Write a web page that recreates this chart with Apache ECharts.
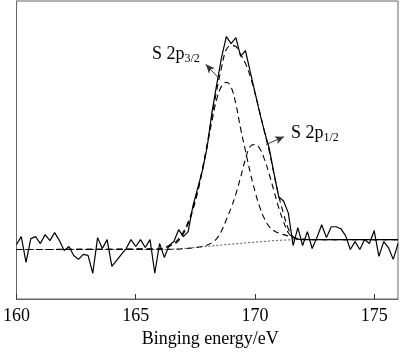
<!DOCTYPE html>
<html><head><meta charset="utf-8">
<script src="https://cdn.jsdelivr.net/npm/echarts@6/dist/echarts.min.js"></script>
<style>html,body{margin:0;padding:0;background:#fff}#c{width:400px;height:353px}</style>
</head><body><div id="c"></div>
<script>
// Binding energy grid (eV)
const energy = [160.0,160.2,160.4,160.6,160.8,161.0,161.2,161.4,161.6,161.8,162.0,162.2,162.4,162.6,162.8,163.0,163.2,163.4,163.6,163.8,164.0,164.2,164.4,164.6,164.8,165.0,165.2,165.4,165.6,165.8,166.0,166.2,166.4,166.6,166.8,167.0,167.2,167.4,167.6,167.8,168.0,168.2,168.4,168.6,168.8,169.0,169.2,169.4,169.6,169.8,170.0,170.2,170.4,170.6,170.8,171.0,171.2,171.4,171.6,171.8,172.0,172.2,172.4,172.6,172.8,173.0,173.2,173.4,173.6,173.8,174.0,174.2,174.4,174.6,174.8,175.0,175.2,175.4,175.6,175.8,176.0];
// Measured intensity (arb. units)
const measured = [55,63,37,61,63,56,65,59,67,59,49,53,44,40,45,44,26,62,51,60,33,39,45,51,60,53,60,52,60,26,56,42,54,58,70,63,68,94,112,130,154,189,217,244,265,258,264,245,251,230,209,188,169,152,127,103,99,87,54,72,54,68,51,62,75,62,73,73,71,64,50,58,50,60,56,69,43,58,52,40,56];
// Shirley background [eV, intensity]
const background = [[160,50],[166.4,50],[167.0,51],[168.0,53.2],[169.0,55.4],[170.0,57.4],[171.0,59.3],[171.8,60],[176,60]];
// S 2p3/2 component [eV, intensity]
const p32 = [[160,50],[166.0,50.5],[166.2,52],[166.4,54],[166.6,55],[166.8,59],[167.0,66],[167.2,76],[167.4,90],[167.6,108],[167.8,130],[168.0,155],[168.2,180],[168.4,202],[168.6,215],[168.8,219],[169.0,214],[169.2,197],[169.4,172],[169.6,150],[169.8,128],[170.0,109],[170.2,93],[170.4,81],[170.6,73],[170.8,69],[171.0,66.5],[171.2,65],[171.4,63.5],[171.6,62],[171.8,61],[172.0,60.5],[172.4,60],[176,60]];
// S 2p1/2 component [eV, intensity]
const p12 = [[160,50],[166.6,50.2],[167.0,50.8],[167.4,51.5],[167.8,53],[168.0,54.5],[168.2,57],[168.4,61],[168.6,69],[168.8,80],[169.0,92],[169.2,106],[169.4,123],[169.6,141],[169.8,154],[170.0,156],[170.2,152],[170.4,141],[170.6,126],[170.8,109],[171.0,92],[171.2,78],[171.4,67],[171.6,62],[171.8,60.5],[172.0,60],[176,60]];
// Fitted envelope [eV, intensity]
const envelope = [[160,50],[166.0,50.5],[166.2,51],[166.4,53],[166.6,56],[166.8,61],[167.0,68],[167.2,78],[167.4,92],[167.6,110],[167.8,132],[168.0,157],[168.2,185],[168.4,211],[168.6,234],[168.8,252],[169.0,256],[169.2,255],[169.4,247],[169.6,238],[169.8,225],[170.0,208],[170.2,189],[170.4,169],[170.6,149],[170.8,126],[171.0,104],[171.2,86],[171.4,71],[171.6,63],[171.8,60.5],[172.0,60],[176,60]];
// Annotation arrows [from, to] in data units
const arrow32 = [[168.52,222],[167.94,237]];
const arrow12 = [[170.47,156],[171.22,164]];
const xTicks = [160,165,170,175];

const chart = echarts.init(document.getElementById('c'), null, {renderer:'canvas'});
const serif = '"Liberation Serif","DejaVu Serif",serif';
const dash = {color:'#000', width:1.1, type:[6,4]};
chart.setOption({
  animation:false,
  backgroundColor:'#fff',
  grid:{left:13,right:2,top:1,bottom:51,show:true,borderColor:'#666',borderWidth:1},
  xAxis:{type:'value',min:160,max:176,interval:5,
    axisLine:{show:true,lineStyle:{color:'#666',width:1}},
    axisTick:{show:true,inside:true,length:5,lineStyle:{color:'#333'}},
    axisLabel:{color:'#000',fontFamily:serif,fontSize:18,margin:8,showMaxLabel:false,
      formatter:v=> xTicks.indexOf(v)>=0 ? String(v) : ''},
    splitLine:{show:false},
    name:'Binging energy/eV',nameLocation:'middle',nameGap:31,
    nameTextStyle:{color:'#000',fontFamily:serif,fontSize:18,padding:[0,0,0,6]}},
  yAxis:{type:'value',min:0,max:301,show:true,
    axisLine:{show:true,lineStyle:{color:'#666'}},axisTick:{show:false},axisLabel:{show:false},splitLine:{show:false}},
  series:[
    {type:'line',data:background,showSymbol:false,lineStyle:{color:'#555',width:1,type:[2,2]},z:1},
    {type:'line',data:p32,smooth:0.4,showSymbol:false,lineStyle:dash,z:2},
    {type:'line',data:p12,smooth:0.4,showSymbol:false,lineStyle:dash,z:2},
    {type:'line',data:envelope,smooth:0.4,showSymbol:false,lineStyle:dash,z:2},
    {type:'line',data:energy.map((e,i)=>[e,measured[i]]),showSymbol:false,lineStyle:{color:'#000',width:1.2},z:3,
      markLine:{silent:true,symbol:['none','arrow'],symbolSize:[6,9],label:{show:false},
        lineStyle:{color:'#333',width:1,type:'solid'},
        data:[[{coord:arrow32[0]},{coord:arrow32[1]}],[{coord:arrow12[0]},{coord:arrow12[1]}]]}}
  ],
  graphic:[
    {type:'text',left:152,top:45,style:{text:'{m|S 2p}{s|3/2}',rich:{m:{fontFamily:serif,fontSize:18,fill:'#000',verticalAlign:'bottom',lineHeight:20},s:{fontFamily:serif,fontSize:12,fill:'#000',verticalAlign:'bottom',lineHeight:14,padding:[0,0,-2,0]}}}},
    {type:'text',left:291,top:124,style:{text:'{m|S 2p}{s|1/2}',rich:{m:{fontFamily:serif,fontSize:18,fill:'#000',verticalAlign:'bottom',lineHeight:20},s:{fontFamily:serif,fontSize:12,fill:'#000',verticalAlign:'bottom',lineHeight:14,padding:[0,0,-2,0]}}}}
  ]
});
</script></body></html>
